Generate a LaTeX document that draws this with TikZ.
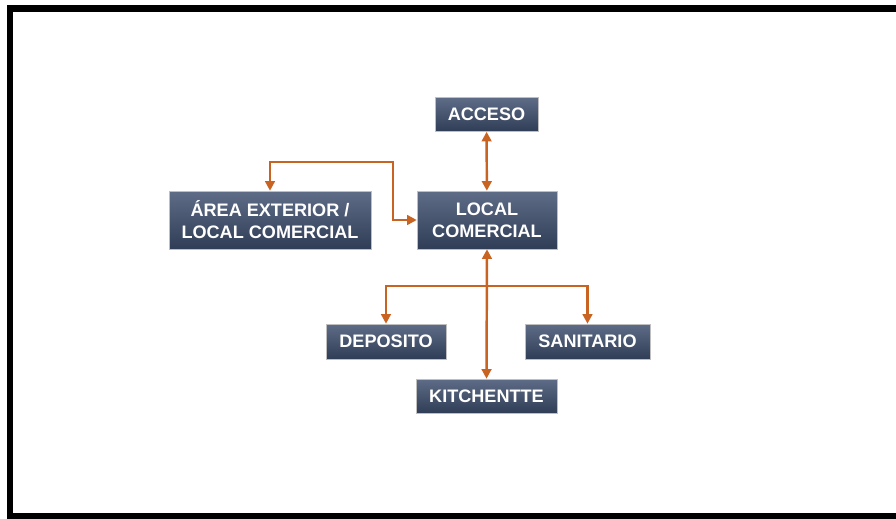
\documentclass[tikz,border=0pt]{standalone}
\usepackage{fontspec}
\setsansfont{Liberation Sans}
\usepackage{tikz}
\usetikzlibrary{
    calc,
    positioning,
    arrows.meta
}

\begin{document}
\begin{tikzpicture}[
    x=0.02cm, y=-0.02cm,
    font=\sffamily\bfseries\fontsize{10.3}{12.5}\selectfont,
    >={Triangle[length=5.5pt,width=5.5pt]},
    box/.style={
    	draw=black!25, line width=0.3pt,
    	top color=my-top, bottom color=my-bottom,
    	minimum height=0.7cm, inner sep=0pt,
    	align=center, text=white
    }, pil/.style={
    	draw=my-orange,
    	line width=1.4pt
    }]
    \definecolor{my-top}{RGB}{94, 108, 135}
    \definecolor{my-bottom}{RGB}{48, 61, 86}
    \definecolor{my-orange}{RGB}{201, 99, 33}

    \useasboundingbox (0,0) rectangle (896,518);

    %%% frame
    \draw[line width=0.14cm] (10,8.5) rectangle (910,516.5);

    %%% rooms
    \node[box, minimum width=2.06cm, minimum height=0.68cm] (acceso) at (486.5,114.5) {ACCESO};
    \node[box, minimum width=2.8cm, minimum height=1.16cm] (local) at (487,220) {LOCAL\\COMERCIAL};
    \node[box, minimum width=4.04cm, minimum height=1.16cm] (area) at (270,220) {ÁREA EXTERIOR /\\LOCAL COMERCIAL};

    \node[box, minimum width=2.4cm] (deposito) at (386,341.5) {DEPOSITO};
    \node[box, minimum width=2.5cm] (sanitario) at (587.5,341.5) {SANITARIO};
    \node[box, minimum width=2.82cm, minimum height=0.68cm] (kitchen) at (486.5,396) {KITCHENTTE};

    %%% EDGES
    \coordinate (bend) at (393,162);
    \coordinate (fork) at (487,286);

    \draw[pil, <->] (acceso) -- (local);
    \draw[pil, <->] (area.north) |- (bend) |- (local.west);
    \draw[pil, <->] (local.south) -- (kitchen.north);

    \draw[pil, ->] (fork) -| (deposito.north);
    \draw[pil, ->] (fork) -| (sanitario.north);

\end{tikzpicture}
\end{document}
